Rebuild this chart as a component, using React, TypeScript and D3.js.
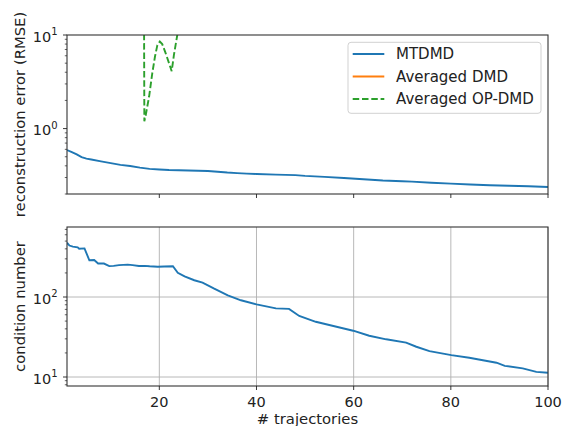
import React from 'react'
import * as d3 from 'd3'

const W = 568
const H = 426

// x ticks (# trajectories)
const xTickValues = [20, 40, 60, 80, 100]

// top panel: reconstruction error (RMSE)
const mtdmdErrN = [1, 2, 3, 4, 5, 6, 8, 10, 12, 14, 16, 18, 20, 22, 24, 26, 28, 30, 32, 34, 36, 38, 40, 44, 48, 50, 54, 58, 62, 66, 70, 72, 76, 80, 84, 88, 92, 96, 100]
const mtdmdErr = [0.59, 0.56, 0.53, 0.495, 0.478, 0.468, 0.447, 0.427, 0.41, 0.398, 0.383, 0.371, 0.365, 0.361, 0.359, 0.357, 0.355, 0.352, 0.346, 0.339, 0.334, 0.33, 0.327, 0.322, 0.318, 0.312, 0.305, 0.297, 0.288, 0.279, 0.274, 0.271, 0.264, 0.258, 0.253, 0.248, 0.245, 0.242, 0.238]

const opdmdErrN = [16.75, 16.92, 17.2, 17.9, 18.55, 19.1, 19.6, 20.1, 20.6, 21.3, 22.0, 22.55, 23.0, 23.7, 24.2]
const opdmdErr = [1000, 1.2, 1.39, 2.2, 3.9, 5.85, 7.8, 8.5, 8.0, 6.4, 5.0, 4.1, 6.1, 10, 16]

// Averaged DMD: off the visible range, only in the legend
const avgDmdN: number[] = []
const avgDmdErr: number[] = []

// bottom panel: condition number
const condN = [1, 1.5, 2.2, 3.2, 3.5, 4.6, 5.6, 6.6, 7.4, 8.6, 9.7, 10.6, 11.7, 13.5, 14.5, 15.8, 17, 18, 19.7, 21, 22.8, 23.8, 25.2, 27.2, 28.9, 31.3, 34.1, 36.8, 40, 44, 46.7, 48.8, 52.2, 58.4, 59.9, 63.2, 66.7, 70.8, 72.9, 75.6, 80.1, 83.8, 89.4, 91.1, 94.8, 97.6, 100]
const cond = [477, 440, 426, 418, 402, 405, 288, 290, 262, 262, 243, 245, 250, 254, 250, 244, 245, 242, 239, 241, 242, 201, 181, 162, 151, 127, 105, 91, 81, 72, 71, 58, 49, 39.8, 37.9, 32.8, 29.6, 26.9, 23.9, 21.1, 18.8, 17.4, 15.1, 13.8, 12.8, 11.6, 11.3]

const legendItems = [
  { label: 'MTDMD', color: '#1f77b4', dash: null },
  { label: 'Averaged DMD', color: '#ff7f0e', dash: null },
  { label: 'Averaged OP-DMD', color: '#2ca02c', dash: '6.5,2.8' },
]

const left = 67
const right = 548
const font = 'DejaVu Sans, sans-serif'
const ink = '#222'
const lw = 1.9

function minorTicks(domain: number[]) {
  const out: number[] = []
  const lo = Math.floor(Math.log10(domain[0]))
  const hi = Math.ceil(Math.log10(domain[1]))
  for (let e = lo; e <= hi; e++) {
    for (let k = 2; k <= 9; k++) {
      const v = k * Math.pow(10, e)
      if (v >= domain[0] && v <= domain[1]) out.push(v)
    }
  }
  return out
}

function Sup({ x, y, exp }: { x: number; y: number; exp: number }) {
  return (
    <text x={x} y={y} textAnchor="end" fontFamily={font} fontSize={14.5} fill={ink}>
      10<tspan fontSize={10} dy={-6.5}>{exp}</tspan>
    </text>
  )
}

function Panel({ top, bottom, yDomain, majors, grid, clipId, children, showX }: any) {
  const x = d3.scaleLinear().domain([1, 100]).range([left, right])
  const y = d3.scaleLog().domain(yDomain).range([bottom, top])
  return (
    <g>
      <defs>
        <clipPath id={clipId}>
          <rect x={left} y={top} width={right - left} height={bottom - top} />
        </clipPath>
      </defs>
      {grid && (
        <g stroke="#b0b0b0" strokeWidth={0.9}>
          {xTickValues.map(t => (
            <line key={'gx' + t} x1={x(t)} x2={x(t)} y1={top} y2={bottom} />
          ))}
          {majors.map((t: number) => (
            <line key={'gy' + t} x1={left} x2={right} y1={y(t)} y2={y(t)} />
          ))}
        </g>
      )}
      <g clipPath={`url(#${clipId})`}>{children(x, y)}</g>
      <rect x={left} y={top} width={right - left} height={bottom - top} fill="none" stroke="#333" strokeWidth={1.1} />
      <g stroke={ink} strokeWidth={0.9}>
        {xTickValues.map(t => (
          <line key={'tx' + t} x1={x(t)} x2={x(t)} y1={bottom} y2={bottom + 4} />
        ))}
        {majors.map((t: number) => (
          <line key={'ty' + t} x1={left} x2={left - 4} y1={y(t)} y2={y(t)} />
        ))}
        {minorTicks(yDomain).map(t => (
          <line key={'my' + t} x1={left} x2={left - 2.2} y1={y(t)} y2={y(t)} strokeWidth={0.7} />
        ))}
      </g>
      {majors.map((t: number) => (
        <Sup key={'ly' + t} x={57.5} y={y(t) + 6.5} exp={Math.round(Math.log10(t))} />
      ))}
      {showX &&
        xTickValues.map(t => (
          <text key={'lx' + t} x={x(t)} y={bottom + 21} textAnchor="middle" fontFamily={font} fontSize={14.5} fill={ink}>
            {t}
          </text>
        ))}
    </g>
  )
}

export default function App() {
  const line = (xs: number[], ys: number[], x: any, y: any) =>
    d3.line<number>().x((_, i) => x(xs[i])).y(d => y(d))(ys) || ''

  return (
    <svg width={W} height={H} style={{ position: 'absolute', left: 0, top: 0, background: '#fff' }}>
      <Panel top={35} bottom={194} yDomain={[0.2, 10]} majors={[1, 10]} grid={false} clipId="c1" showX={false}>
        {(x: any, y: any) => (
          <g fill="none" strokeWidth={lw}>
            <path d={line(mtdmdErrN, mtdmdErr, x, y)} stroke="#1f77b4" />
            {avgDmdN.length > 0 && <path d={line(avgDmdN, avgDmdErr, x, y)} stroke="#ff7f0e" />}
            <path d={line(opdmdErrN, opdmdErr, x, y)} stroke="#2ca02c" strokeDasharray="6.5,2.8" />
          </g>
        )}
      </Panel>
      <Panel top={227} bottom={386} yDomain={[7.72, 750]} majors={[10, 100]} grid={true} clipId="c2" showX={true}>
        {(x: any, y: any) => (
          <path d={line(condN, cond, x, y)} fill="none" stroke="#1f77b4" strokeWidth={lw} />
        )}
      </Panel>

      {/* legend */}
      <rect x={348} y={42.3} width={193} height={71} rx={3} fill="#fff" fillOpacity={0.8} stroke="#cccccc" strokeWidth={0.9} />
      {legendItems.map((it, i) => {
        const cy = 54 + i * 22.5
        return (
          <g key={it.label}>
            <line x1={352.7} x2={384.3} y1={cy} y2={cy} stroke={it.color} strokeWidth={lw} strokeDasharray={it.dash || undefined} />
            <text x={396} y={cy + 5.2} fontFamily={font} fontSize={15} fill={ink}>
              {it.label}
            </text>
          </g>
        )
      })}

      <text transform={`translate(24.5,${(35 + 194) / 2}) rotate(-90)`} textAnchor="middle" fontFamily={font} fontSize={14.8} fill={ink}>
        reconstruction error (RMSE)
      </text>
      <text transform={`translate(24.5,${(227 + 386) / 2}) rotate(-90)`} textAnchor="middle" fontFamily={font} fontSize={14.8} fill={ink}>
        condition number
      </text>
      <text x={(left + right) / 2} y={423.5} textAnchor="middle" fontFamily={font} fontSize={14.8} fill={ink}>
        # trajectories
      </text>
    </svg>
  )
}
